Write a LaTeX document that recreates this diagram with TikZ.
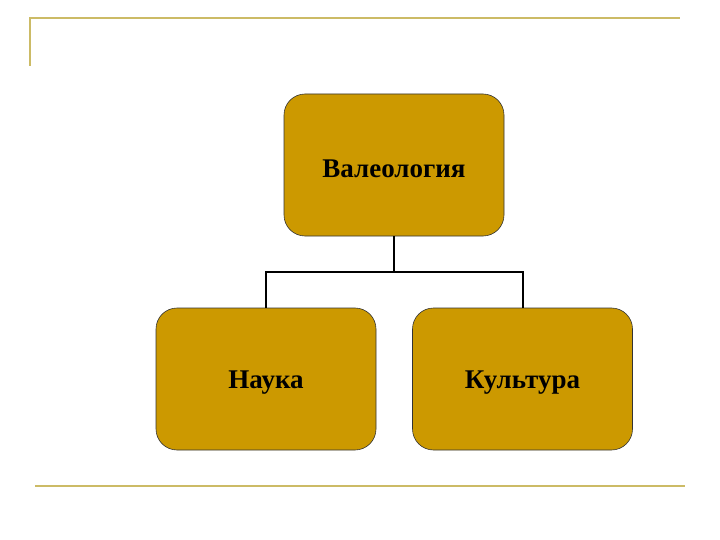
\documentclass[tikz,border=0pt]{standalone}
\usepackage{fontspec}
\setmainfont{Liberation Serif}
\newcommand{\boxtext}[1]{\raisebox{-4pt}[\height][\depth]{#1}}
\begin{document}
\begin{tikzpicture}[x=1pt,y=-1pt,
  deco/.style={draw={rgb,255:red,204;green,187;blue,102},line width=2pt},
  topicbox/.style={draw=black!80,line width=0.6pt,fill={rgb,255:red,204;green,153;blue,0},rounded corners=21pt,minimum width=220pt,minimum height=142pt,inner sep=0pt,font=\fontsize{27}{32}\selectfont\bfseries},
  conn/.style={draw=black,line width=2pt}]
\useasboundingbox (0,0) rectangle (720,540);
\coordinate (tl) at (30,66);
\coordinate (tc) at (30,18);
\coordinate (tr) at (680,18);
\coordinate (bl) at (35,486);
\coordinate (br) at (685,486);
\draw[deco] (tl) -- (tc) -- (tr);
\draw[deco] (bl) -- (br);
\node[topicbox] (v) at (394,165) {\boxtext{Валеология}};
\node[topicbox] (n) at (266,379) {\boxtext{Наука}};
\node[topicbox] (k) at (522.5,379) {\boxtext{Культура}};
\coordinate (j) at (394,271.5);
\draw[conn] (v.south) -- (j);
\draw[conn] (j) -| (n.north);
\draw[conn] (j) -| (k.north);
\end{tikzpicture}
\end{document}
